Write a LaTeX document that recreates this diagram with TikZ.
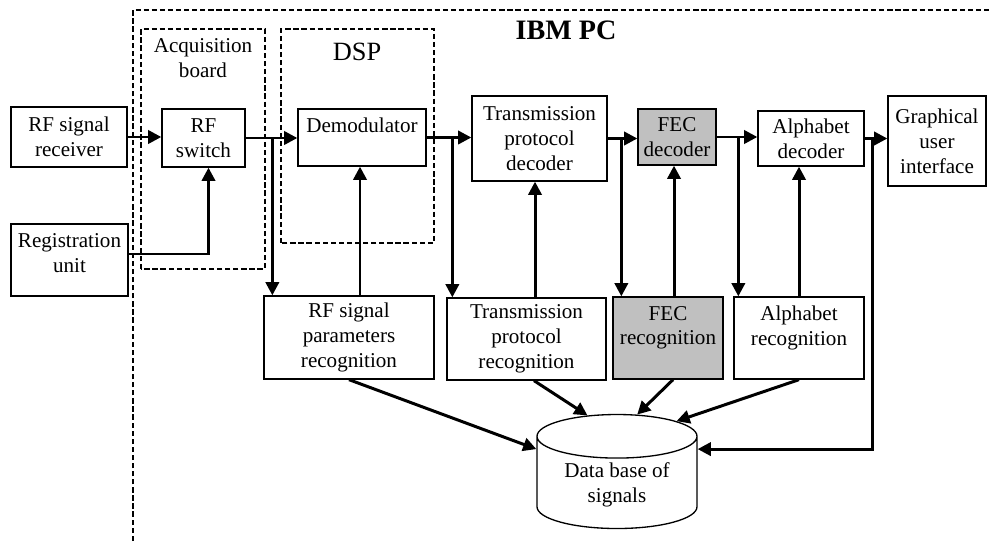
\documentclass[tikz,border=0pt]{standalone}
\usepackage{fontspec}
\setmainfont{Liberation Serif}
\usetikzlibrary{positioning, arrows.meta, shapes.geometric, calc}
\definecolor{fecgray}{HTML}{C0C0C0}

\begin{document}
\begin{tikzpicture}[
    box/.style={rectangle, draw, line width=0.75pt, align=center, inner sep=1pt,
        font=\fontsize{12}{14.2}\selectfont},
    graybox/.style={box, fill=fecgray},
    arrow/.style={-{Triangle[length=7.5pt, width=7.5pt]}, line width=1.7pt},
    boardframe/.style={line width=0.8pt, dash pattern=on 3pt off 1.6pt},
    caption/.style={align=center, inner sep=0pt, font=\fontsize{12}{14.2}\selectfont}
]
    \useasboundingbox (0,0) rectangle (19.78,10.82);

    % frames
    \draw[boardframe] (2.66,0) -- (2.66,10.62) -- (19.78,10.62);
    \node[caption, font=\bfseries\fontsize{16}{19}\selectfont] (pc) at (11.32,10.21) {IBM PC};
    \draw[boardframe] (2.82,5.44) rectangle (5.30,10.24);
    \node[caption] (acq) at (4.06,9.65) {Acquisition\\board};
    \draw[boardframe] (5.62,5.96) rectangle (8.68,10.24);
    \node[caption, font=\fontsize{15}{18}\selectfont] (dsp) at (7.14,9.79) {DSP};

    % upper row
    \node[box, minimum width=2.32cm, minimum height=1.20cm] (recv) at (1.38,8.08) {RF signal\\receiver};
    \node[box, minimum width=2.34cm, minimum height=1.44cm] (reg) at (1.39,5.62) {Registration\\unit\\[-6pt]~};
    \node[box, minimum width=1.66cm, minimum height=1.16cm] (sw) at (4.07,8.06) {RF\\switch};
    \node[box, minimum width=2.56cm, minimum height=1.14cm] (demod) at (7.24,8.07) {Demodulator\\~};
    \node[box, minimum width=2.70cm, minimum height=1.70cm] (tpd) at (10.79,8.05) {Transmission\\protocol\\decoder};
    \node[graybox, minimum width=1.56cm, minimum height=1.12cm] (fecd) at (13.54,8.08) {FEC\\decoder};
    \node[box, minimum width=2.12cm, minimum height=1.10cm] (alphd) at (16.22,8.05) {Alphabet\\decoder};
    \node[box, minimum width=1.96cm, minimum height=1.80cm] (gui) at (18.74,8.00) {Graphical\\user\\interface};

    % lower row
    \node[box, minimum width=3.40cm, minimum height=1.66cm] (rfp) at (6.98,4.07) {RF signal\\parameters\\recognition};
    \node[box, minimum width=3.18cm, minimum height=1.64cm] (tpr) at (10.53,4.04) {Transmission\\protocol\\recognition};
    \node[graybox, minimum width=2.20cm, minimum height=1.64cm] (fecr) at (13.36,4.06) {FEC\\recognition\\~};
    \node[box, minimum width=2.60cm, minimum height=1.64cm] (alphr) at (15.98,4.06) {Alphabet\\recognition\\~};

    \node[cylinder, shape border rotate=90, aspect=0.4, draw, line width=0.75pt,
        minimum width=3.20cm, minimum height=2.28cm, align=center, inner sep=1pt,
        font=\fontsize{12}{14.2}\selectfont] (db) at (12.34,1.12) {Data base of\\signals};

    % signal path
    \draw[arrow] (recv.east) -- (recv.east -| sw.west);
    \draw[arrow] ([yshift=0.12cm]reg.east) -| ([xshift=0.1cm]sw.south);
    \draw[arrow] (sw.east) -- (sw.east -| demod.west);
    \draw[arrow] (demod.east) -- (demod.east -| tpd.west);
    \draw[arrow] (tpd.east) -- (tpd.east -| fecd.west);
    \draw[arrow] (fecd.east) -- (fecd.east -| alphd.west);
    \draw[arrow] (alphd.east) -- (alphd.east -| gui.west);

    % to recognition blocks
    \draw[arrow] ([xshift=0.18cm]rfp.north west |- sw.east) -- ([xshift=0.18cm]rfp.north west);
    \draw[arrow] ([xshift=0.12cm]tpr.north west |- demod.east) -- ([xshift=0.12cm]tpr.north west);
    \draw[arrow] ([xshift=0.18cm]fecr.north west |- tpd.east) -- ([xshift=0.18cm]fecr.north west);
    \draw[arrow] ([xshift=0.10cm]alphr.north west |- fecd.east) -- ([xshift=0.10cm]alphr.north west);

    % back to decoders
    \draw[arrow] ([xshift=0.22cm]rfp.north) -- ([xshift=0.22cm]rfp.north |- demod.south);
    \draw[arrow] ([xshift=0.17cm]tpr.north) -- ([xshift=0.17cm]tpr.north |- tpd.south);
    \draw[arrow] ([xshift=0.12cm]fecr.north) -- ([xshift=0.12cm]fecr.north |- fecd.south);
    \draw[arrow] (alphr.north) -- (alphr.north |- alphd.south);

    % to data base
    \draw[arrow] (rfp.south) -- (db.156);
    \draw[arrow] ([xshift=0.15cm]tpr.south) -- (db.113);
    \draw[arrow] ([xshift=0.10cm]fecr.south) -- (db.74);
    \draw[arrow] (alphr.south) -- (db.47);
    \draw[arrow] ([xshift=0.16cm]alphd.east) |- (db.24);
\end{tikzpicture}
\end{document}
